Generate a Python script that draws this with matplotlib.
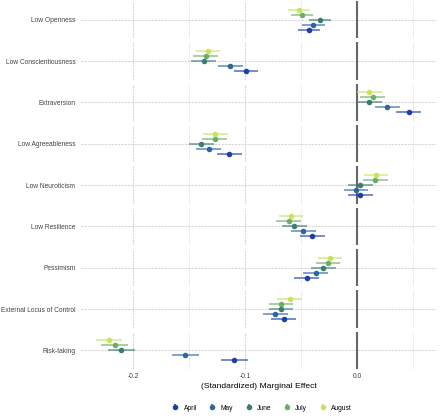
import numpy as np
import matplotlib
matplotlib.use("Agg")
import matplotlib.pyplot as plt

plt.rcParams['font.family'] = ['Liberation Sans', 'DejaVu Sans']

traits = ["Low Openness", "Low Conscientiousness", "Extraversion", "Low Agreeableness",
          "Low Neuroticism", "Low Resilience", "Pessimism", "External Locus of Control",
          "Risk-taking"]
months = ["April", "May", "June", "July", "August"]

# estimates per trait, in month order April..August
est_april  = [-0.043, -0.099, 0.046, -0.114, 0.003, -0.040, -0.045, -0.0655, -0.1096]
est_may    = [-0.039, -0.113, 0.027, -0.1325, -0.001, -0.048, -0.037, -0.073, -0.1533]
est_june   = [-0.033, -0.137, 0.011, -0.139, 0.003, -0.056, -0.030, -0.068, -0.2104]
est_july   = [-0.049, -0.135, 0.014, -0.127, 0.0164, -0.061, -0.026, -0.068, -0.2164]
est_august = [-0.052, -0.133, 0.011, -0.1265, 0.017, -0.059, -0.024, -0.060, -0.2214]
ci_half = [0.010, 0.011, 0.011, 0.011, 0.011, 0.011, 0.011, 0.011, 0.012]

colors = ["#1f3ea8", "#2c67a0", "#3b7d70", "#6cae69", "#c6e462"]

x_ticks = [-0.2, -0.1, 0.0]
x_tick_labels = ["-0.2", "-0.1", "0.0"]
x_minor = [-0.15, -0.05, 0.05]

W, H = 440, 419
fig = plt.figure(figsize=(W / 100, H / 100), dpi=100)

left, right = 81, 436
top, bottom = 1, 369
gap = 4
n = len(traits)
ph = (bottom - top - gap * (n - 1)) / n
xlim = (-0.2464, 0.0705)

series = [est_april, est_may, est_june, est_july, est_august]
offsets = [-2, -1, 0, 1, 2]

axes = []
for i, trait in enumerate(traits):
    y0 = top + i * (ph + gap)
    ax = fig.add_axes([left / W, 1 - (y0 + ph) / H, (right - left) / W, ph / H])
    axes.append(ax)
    ax.set_xlim(*xlim)
    ax.set_ylim(-3.7, 3.7)
    for s in ax.spines.values():
        s.set_visible(False)
    for xv in x_ticks:
        ax.axvline(xv, color="#d6d6d6", lw=0.8, ls=(0, (2, 1)), zorder=0)
    for xv in x_minor:
        ax.axvline(xv, color="#e2e2e2", lw=0.6, ls=(0, (2, 1)), zorder=0)
    ax.axhline(0, color="#d6d6d6", lw=0.8, ls=(0, (2, 1)), zorder=0)
    ax.axvline(0, color="#666666", lw=1.5, zorder=1)
    for k, (vals, col, off) in enumerate(zip(series, colors, offsets)):
        ax.errorbar(vals[i], off, xerr=ci_half[i], fmt='none', ecolor=col,
                    elinewidth=1.3, alpha=0.65, capsize=0, zorder=2)
        ax.plot(vals[i], off, 'o', color=col, ms=4.0, mec='none', zorder=3)
    ax.set_yticks([0])
    ax.set_yticklabels([trait], fontsize=4.75, color="#444444")
    ax.tick_params(axis='y', length=0, pad=4)
    if i == n - 1:
        ax.set_xticks(x_ticks)
        ax.set_xticklabels(x_tick_labels, fontsize=4.75, color="#444444")
        ax.tick_params(axis='x', length=0, pad=3)
        ax.set_xlabel("(Standardized) Marginal Effect", fontsize=6.1, labelpad=2)
    else:
        ax.set_xticks([])

# legend
handles = []
for col, m in zip(colors, months):
    h = axes[-1].errorbar([np.nan], [np.nan], yerr=[[0.1]], fmt='o', color=col,
                          ms=4.0, mec='none', elinewidth=1.2, capsize=0, label=m)
    handles.append(h)
fig.legend(handles=handles, labels=months, loc='center',
           bbox_to_anchor=(262 / W, 1 - 408 / H),
           ncol=5, frameon=False, fontsize=4.75, handlelength=0.9, handletextpad=0.8,
           columnspacing=1.9, borderaxespad=0)

fig.savefig("out.png", dpi=100)
